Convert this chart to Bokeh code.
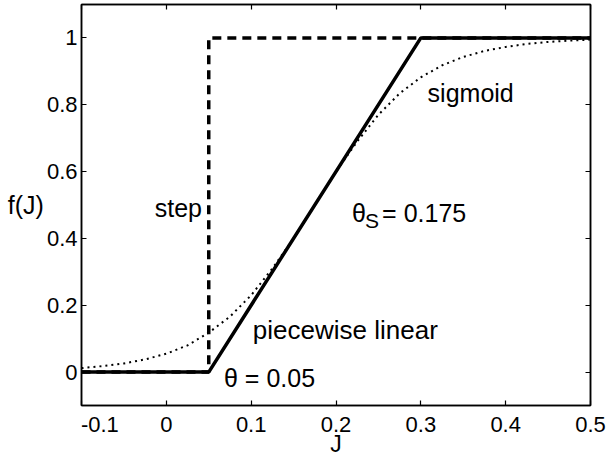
from bokeh.plotting import figure
from bokeh.models import Range1d, LinearAxis, FixedTicker, Label
from bokeh.embed import file_html
from bokeh.resources import INLINE

# Transfer functions f(J)
step_j = [-0.1, 0.05, 0.05, 0.5]
step_f = [0.0, 0.0, 1.0, 1.0]

linear_j = [-0.1, 0.05, 0.3, 0.5]
linear_f = [0.0, 0.0, 1.0, 1.0]

sigmoid_j = [-0.1, -0.075, -0.05, -0.025, 0.0, 0.025, 0.05, 0.075, 0.1, 0.125,
             0.15, 0.175, 0.2, 0.225, 0.25, 0.275, 0.3, 0.325, 0.35, 0.375,
             0.4, 0.425, 0.45, 0.475, 0.5]
sigmoid_f = [0.012, 0.018, 0.026, 0.038, 0.055, 0.08, 0.118, 0.166, 0.23, 0.31,
             0.40, 0.50, 0.60, 0.69, 0.77, 0.834, 0.882, 0.918, 0.943, 0.961,
             0.973, 0.982, 0.988, 0.992, 0.995]

x_ticks = [-0.1, 0.0, 0.1, 0.2, 0.3, 0.4, 0.5]
y_ticks = [0.0, 0.2, 0.4, 0.6, 0.8, 1.0]
# the leftmost label is padded so it sits inside the frame edge
x_tick_labels = {-0.1: "\u00a0" * 6 + "-0.1", 0.0: "0", 0.1: "0.1", 0.2: "0.2",
                 0.3: "0.3", 0.4: "0.4", 0.5: "0.5"}
y_tick_labels = {0.0: "0", 0.2: "0.2", 0.4: "0.4", 0.6: "0.6", 0.8: "0.8", 1.0: "1"}

FONT = "Liberation Sans"
TICK_SIZE = "22px"
TEXT_SIZE = "25px"

p = figure(width=616, height=459,
           x_range=Range1d(-0.1, 0.5), y_range=Range1d(-0.1, 1.1),
           output_backend="svg", toolbar_location=None,
           x_axis_location=None, y_axis_location=None,
           min_border_left=81, min_border_right=26,
           min_border_top=4, min_border_bottom=54)
p.grid.visible = False
p.outline_line_color = "black"
p.outline_line_width = 1.5
p.background_fill_color = "white"
p.border_fill_color = "white"


def make_axis(ticks, overrides, show_labels, standoff):
    ax = LinearAxis(ticker=FixedTicker(ticks=ticks))
    ax.major_tick_in = 5
    ax.major_tick_out = 0
    ax.minor_tick_in = 0
    ax.minor_tick_out = 0
    ax.axis_line_color = "black"
    ax.axis_line_width = 1.5
    ax.major_tick_line_color = "black"
    ax.major_tick_line_width = 1.2
    ax.major_label_text_font = FONT
    ax.major_label_text_color = "black"
    ax.axis_label_text_font = FONT
    ax.axis_label_text_font_style = "normal"
    ax.axis_label_text_font_size = TEXT_SIZE
    ax.axis_label_text_color = "black"
    if show_labels:
        ax.major_label_overrides = overrides
        ax.major_label_text_font_size = TICK_SIZE
        ax.major_label_standoff = standoff
    else:
        # mirrored box axis: ticks only
        ax.major_label_overrides = {t: "" for t in ticks}
        ax.major_label_text_font_size = "1px"
        ax.major_label_standoff = 0
    return ax


x_axis = make_axis(x_ticks, x_tick_labels, True, 6)
x_axis.axis_label = "J"
x_axis.axis_label_text_font_size = "23px"
x_axis.axis_label_standoff = -9
p.add_layout(x_axis, "below")

y_axis = make_axis(y_ticks, y_tick_labels, True, 4)
y_axis.axis_label = "f(J)"
y_axis.axis_label_orientation = "horizontal"
y_axis.axis_label_standoff = 0
p.add_layout(y_axis, "left")

p.add_layout(make_axis(x_ticks, {}, False, 0), "above")
p.add_layout(make_axis(y_ticks, {}, False, 0), "right")

p.line(sigmoid_j, sigmoid_f, line_color="black", line_width=2,
       line_dash="2 4")
p.line(step_j, step_f, line_color="black", line_width=3.5,
       line_dash="9 6")
p.line(linear_j, linear_f, line_color="black", line_width=3.5)


def label(x, y, text, size=TEXT_SIZE, align="left", baseline="alphabetic",
          dx=0, dy=0):
    p.add_layout(Label(x=x, y=y, text=text, x_offset=dx, y_offset=dy,
                       text_font=FONT, text_font_size=size,
                       text_color="black", text_align=align,
                       text_baseline=baseline))


# curve annotations
label(0.042, 0.49, "step", align="right")
label(0.308, 0.836, "sigmoid")
label(0.102, 0.125, "piecewise linear", size="26px")
label(0.068, -0.018, "\u03b8 = 0.05")
label(0.219, 0.475, "\u03b8")
label(0.219, 0.475, "S", size="21px", dx=13, dy=-7)
label(0.219, 0.475, "= 0.175", dx=30)

open("out.html", "w").write(file_html(p, INLINE))
